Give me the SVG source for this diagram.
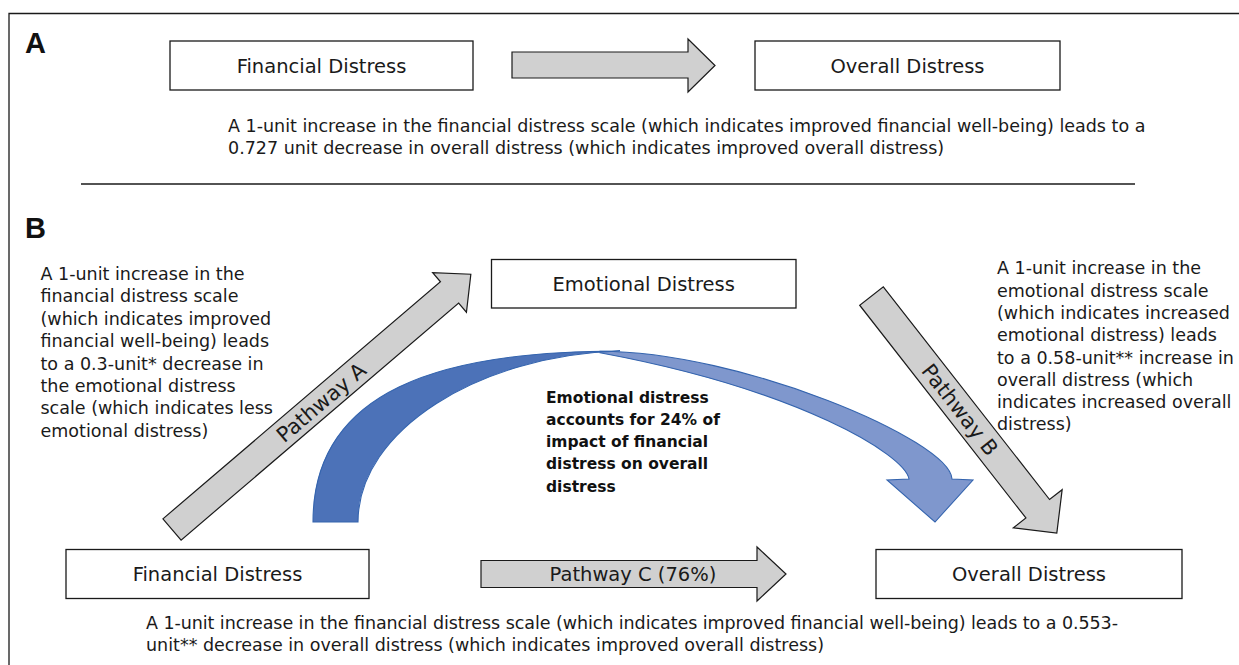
<svg xmlns="http://www.w3.org/2000/svg" width="1239" height="665" viewBox="0 0 1239 665">
<style>
.box{fill:#fff;stroke:#1a1a1a;stroke-width:1.3}
.lbl{font-family:"DejaVu Sans",sans-serif;font-size:19.5px;fill:#1a1a1a;text-anchor:middle}
.body{font-family:"DejaVu Sans",sans-serif;font-size:17.5px;fill:#1a1a1a}
.bold{font-family:"DejaVu Sans",sans-serif;font-size:15.5px;font-weight:bold;fill:#111}
.panel{font-family:"Liberation Sans",sans-serif;font-size:29px;font-weight:bold;fill:#111}
.garrow{fill:#d0d0d0;stroke:#1a1a1a;stroke-width:1.2;stroke-linejoin:miter}
.plbl{font-family:"DejaVu Sans",sans-serif;font-size:21px;fill:#1a1a1a;text-anchor:middle}
.rule{fill:none;stroke:#1a1a1a;stroke-width:1.3}
</style>
<rect width="1239" height="665" fill="#fff"/>
<path class="rule" d="M9,665 V13.5 H1239" stroke="#333"/>
<line class="rule" x1="81" y1="184" x2="1135" y2="184"/>

<text class="panel" x="25" y="53">A</text>
<text class="panel" x="25" y="238">B</text>

<!-- Panel A nodes -->
<g id="a-financial">
<rect class="box" x="170" y="41" width="303" height="49"/>
<text class="lbl" x="321.5" y="72.5">Financial Distress</text>
</g>
<g id="a-overall">
<rect class="box" x="755" y="41" width="305" height="49"/>
<text class="lbl" x="907.5" y="72.5">Overall Distress</text>
</g>
<g id="a-note">
<text class="body" x="228" y="132">A 1-unit increase in the financial distress scale (which indicates improved financial well-being) leads to a</text>
<text class="body" x="228" y="154">0.727 unit decrease in overall distress (which indicates improved overall distress)</text>
</g>

<!-- Panel B nodes -->
<g id="b-emotional">
<rect class="box" x="491.5" y="259.5" width="304.5" height="48.5"/>
<text class="lbl" x="643.7" y="290.5">Emotional Distress</text>
</g>
<g id="b-financial">
<rect class="box" x="66" y="549.5" width="303" height="49"/>
<text class="lbl" x="217.5" y="581">Financial Distress</text>
</g>
<g id="b-overall">
<rect class="box" x="876" y="549.5" width="306" height="49"/>
<text class="lbl" x="1029" y="581">Overall Distress</text>
</g>

<g id="b-note-left" class="body">
<text x="40.5" y="280">A 1-unit increase in the</text>
<text x="40.5" y="302.4">financial distress scale</text>
<text x="40.5" y="324.8">(which indicates improved</text>
<text x="40.5" y="347.2">financial well-being) leads</text>
<text x="40.5" y="369.6">to a 0.3-unit* decrease in</text>
<text x="40.5" y="392">the emotional distress</text>
<text x="40.5" y="414.4">scale (which indicates less</text>
<text x="40.5" y="436.8">emotional distress)</text>
</g>
<g id="b-note-right" class="body">
<text x="997" y="274.3">A 1-unit increase in the</text>
<text x="997" y="296.6">emotional distress scale</text>
<text x="997" y="318.9">(which indicates increased</text>
<text x="997" y="341.2">emotional distress) leads</text>
<text x="997" y="363.5">to a 0.58-unit** increase in</text>
<text x="997" y="385.8">overall distress (which</text>
<text x="997" y="408.1">indicates increased overall</text>
<text x="997" y="430.4">distress)</text>
</g>
<g id="b-note-bottom" class="body">
<text x="146" y="629" textLength="972">A 1-unit increase in the financial distress scale (which indicates improved financial well-being) leads to a 0.553-</text>
<text x="146" y="651">unit** decrease in overall distress (which indicates improved overall distress)</text>
</g>

<!-- Connectors -->
<g id="connectors">
<polygon class="garrow" points="512,52 688,52 688,39 715,65.5 688,92 688,78 512,78"/>

<g id="pathway-a" transform="translate(172,529.5) rotate(-40.5)">
<polygon class="garrow" points="0,-14 365,-14 365,-26 393,0 365,26 365,14 0,14"/>
<text class="plbl" x="196" y="7.6">Pathway A</text>
</g>

<g id="pathway-b" transform="translate(871.5,296) rotate(52)">
<polygon class="garrow" points="0,-15 270,-15 270,-31 301,0 270,31 270,15 0,15"/>
<text class="plbl" x="144" y="7.6">Pathway B</text>
</g>

<g id="pathway-c">
<polygon class="garrow" points="481,560.5 757,560.5 757,547 786,574 757,601 757,587.5 481,587.5"/>
<text class="lbl" x="633" y="581">Pathway C (76%)</text>
</g>

<g id="mediation-arrow" stroke="#3464ae" stroke-width="1.1" stroke-linejoin="miter">
<path fill="#7f97cd" d="M600,351.2 C740,351 950,440 952,479 L973,480 L935,522 L887,480 L909,479 C905,455 800,390 600,352.8 Z"/>
<path fill="#4c72b8" d="M313,522 C313,390 440,351 620,351 C480,355 358,430 358,522 Z"/>
</g>
</g>

<g id="mediation-note" class="bold">
<text x="546" y="403">Emotional distress</text>
<text x="546" y="425">accounts for 24% of</text>
<text x="546" y="447">impact of financial</text>
<text x="546" y="469">distress on overall</text>
<text x="546" y="492">distress</text>
</g>
</svg>
